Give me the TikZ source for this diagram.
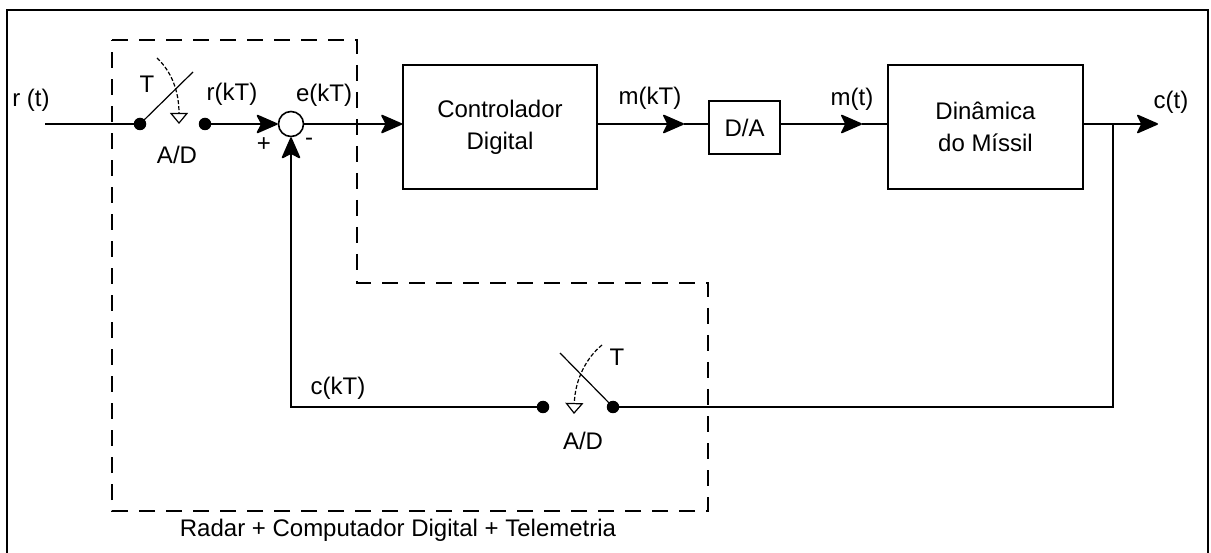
\documentclass[tikz,border=0pt]{standalone}
\usepackage{fontspec}
\setmainfont{Liberation Sans}
\usetikzlibrary{arrows.meta,positioning,calc}
\begin{document}
\begin{tikzpicture}[x=1pt,y=-1pt,
  every node/.style={font=\fontsize{24}{32}\selectfont},
  blk/.style={draw,line width=1.6pt,align=center,inner sep=0pt},
  arr/.style={-{Stealth[length=23pt,width=20pt,inset=5pt,round]},line width=1.6pt},
  wire/.style={line width=1.6pt},
  blade/.style={line width=1.2pt},
  sampl/.style={line width=1.2pt,dash pattern=on 4pt off 2pt,
     -{Triangle[open,length=11pt,width=18pt,line width=1.2pt]}},
  swdot/.style={circle,fill,inner sep=0pt,minimum size=12.5pt},
  sumj/.style={circle,draw,line width=1.6pt,inner sep=0pt,minimum size=25pt},
  region/.style={line width=1.6pt,dash pattern=on 16pt off 11pt}]
\useasboundingbox (0,0) rectangle (1211,553);
\draw[line width=2.4pt] (7,560) -- (7,10) -- (1208,10) -- (1208,560);
% blocks
\node[blk,minimum width=194pt,minimum height=124pt] (ctrl) at (500,127) {Controlador\\Digital};
\node[blk,minimum width=71pt,minimum height=53pt] (da) at (744.5,127.5) {D/A};
\node[blk,minimum width=195pt,minimum height=124pt] (plant) at (985.5,127) {Din\^amica\\do M\'issil};
\node[sumj] (sum) at (291,124) {};
% samplers
\node[swdot] (s1a) at (140,124) {};
\node[swdot] (s1b) at (205,124) {};
\coordinate (s1tip) at (193,72);
\node[swdot] (s2a) at (543,407) {};
\node[swdot] (s2b) at (613,407) {};
\coordinate (s2tip) at (560,353);
% points on the wires
\coordinate (in) at (45,124);
\coordinate (mk) at (684,124);
\coordinate (mt) at (862,124);
\coordinate (br) at (1113,124);
\coordinate (out) at (1158,124);
\coordinate (fbr) at (1113,407);
\coordinate (fbl) at (291,407);
% forward path
\draw[wire] (in) -- (s1a);
\draw[blade] (s1a.center) -- (s1tip);
\draw[sampl] (157,58) .. controls (172,72) and (179,92) .. (179,124);
\draw[arr] (s1b) -- (sum);
\draw[arr] (sum) -- (sum -| ctrl.west);
\draw[arr] (sum -| ctrl.east) -- (mk);
\draw[wire] (mk) -- (mk -| da.west);
\draw[arr] (mk -| da.east) -- (mt);
\draw[wire] (mt) -- (mt -| plant.west);
\draw[arr] (out -| plant.east) -- (out);
% feedback path
\draw[wire] (br) -- (fbr) -- (s2b);
\draw[blade] (s2b.center) -- (s2tip);
\draw[sampl] (602,345) .. controls (586,358) and (575,380) .. (574,414);
\draw[arr] (s2a) -- (fbl) -- (sum);
% dashed region
\draw[region] (112,40) -- (357,40) -- (357,283) -- (708,283) -- (708,511) -- (112,511) -- cycle;
% labels
\node (rt) at (31,100) {r (t)};
\node (t1) at (147,84) {T};
\node (ad1) at (177,155) {A/D};
\node (rkt) at (232,94) {r(kT)};
\node (ekt) at (324,95) {e(kT)};
\node (plus) at (264,145) {+};
\node (minus) at (309,142) {-};
\node (mkt) at (650,98) {m(kT)};
\node (mtl) at (852,99) {m(t)};
\node (ctl) at (1171,102) {c(t)};
\node (ckt) at (338,388) {c(kT)};
\node (t2) at (617,357) {T};
\node (ad2) at (583,441) {A/D};
\node (rct) at (398,530) {Radar + Computador Digital + Telemetria};
\end{tikzpicture}
\end{document}
